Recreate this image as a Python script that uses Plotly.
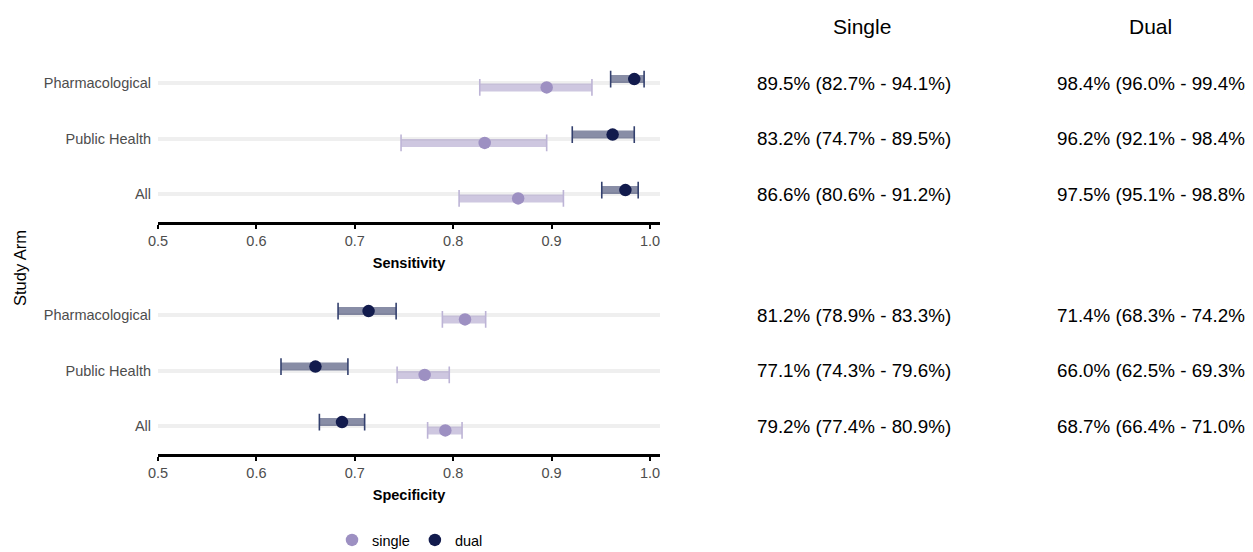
import plotly.graph_objects as go

# ---------------- data ----------------
arms = ["All", "Public Health", "Pharmacological"]
arm_pos = [1, 2, 3]

sens_single = [0.866, 0.832, 0.895]
sens_single_lo = [0.806, 0.747, 0.827]
sens_single_hi = [0.912, 0.895, 0.941]
sens_dual = [0.975, 0.962, 0.984]
sens_dual_lo = [0.951, 0.921, 0.960]
sens_dual_hi = [0.988, 0.984, 0.994]

spec_single = [0.792, 0.771, 0.812]
spec_single_lo = [0.774, 0.743, 0.789]
spec_single_hi = [0.809, 0.796, 0.833]
spec_dual = [0.687, 0.660, 0.714]
spec_dual_lo = [0.664, 0.625, 0.683]
spec_dual_hi = [0.710, 0.693, 0.742]

x_ticks = [0.5, 0.6, 0.7, 0.8, 0.9, 1.0]
x_ticktext = ["0.5", "0.6", "0.7", "0.8", "0.9", "1.0"]

# ---------------- style ----------------
OFF = 8                      # page body margin
W, H = 1253 - OFF, 552 - OFF
FONT = "Liberation Sans, Arial, Helvetica, sans-serif"
C_SINGLE = "#9d90c2"
C_DUAL = "#121b4d"
BAND_SINGLE = "rgba(157,144,194,0.5)"
BAND_DUAL = "rgba(18,27,77,0.5)"
CAP_SINGLE = "#bdb4d6"
CAP_DUAL = "#33406e"
DODGE = 0.075


def fx(px):
    return (px - OFF) / W


def fy(py):
    return 1 - (py - OFF) / H


fig = go.Figure()


def add_series(est, lo, hi, offset, name, color, band, cap, xa, ya, showlegend):
    ys = [p + offset for p in arm_pos]
    bx, by = [], []
    for l, h, y in zip(lo, hi, ys):
        bx += [l, h, None]
        by += [y, y, None]
    fig.add_trace(go.Scatter(x=bx, y=by, mode="lines", line=dict(color=band, width=8),
                             xaxis=xa, yaxis=ya, showlegend=False, hoverinfo="skip"))
    fig.add_trace(go.Scatter(x=list(lo) + list(hi), y=ys + ys, mode="markers",
                             marker=dict(symbol="line-ns", size=12,
                                         line=dict(color=cap, width=1.6)),
                             xaxis=xa, yaxis=ya, showlegend=False, hoverinfo="skip"))
    fig.add_trace(go.Scatter(x=est, y=ys, mode="markers", name=name,
                             marker=dict(color=color, size=12.5),
                             xaxis=xa, yaxis=ya, showlegend=showlegend))


add_series(sens_single, sens_single_lo, sens_single_hi, -DODGE, "single", C_SINGLE,
           BAND_SINGLE, CAP_SINGLE, "x", "y", True)
add_series(sens_dual, sens_dual_lo, sens_dual_hi, DODGE, "dual", C_DUAL,
           BAND_DUAL, CAP_DUAL, "x", "y", True)
add_series(spec_single, spec_single_lo, spec_single_hi, -DODGE, "single", C_SINGLE,
           BAND_SINGLE, CAP_SINGLE, "x2", "y2", False)
add_series(spec_dual, spec_dual_lo, spec_dual_hi, DODGE, "dual", C_DUAL,
           BAND_DUAL, CAP_DUAL, "x2", "y2", False)

xdom = [fx(158), fx(660)]
xrange = [0.5, 0.5 + (660 - 158) / 984.0]

xaxis_common = dict(
    domain=xdom, range=xrange, tickvals=x_ticks, ticktext=x_ticktext,
    showgrid=False, zeroline=False, showline=True, linecolor="black", linewidth=3,
    ticks="outside", ticklen=4, tickwidth=1.5, tickcolor="black",
    tickfont=dict(family=FONT, size=14.5, color="#4d4d4d"),
    fixedrange=True, automargin=False,
)
yaxis_common = dict(
    range=[0.5, 3.5], tickvals=arm_pos, ticktext=arms,
    showgrid=True, gridcolor="#efefef", gridwidth=4, zeroline=False, showline=False,
    ticks="", ticklabelstandoff=6, automargin=False,
    tickfont=dict(family=FONT, size=14.5, color="#4d4d4d"),
)

fig.update_layout(
    width=W, height=H,
    margin=dict(l=0, r=0, t=0, b=0, autoexpand=False),
    plot_bgcolor="white", paper_bgcolor="white",
    font=dict(family=FONT),
    xaxis=dict(**xaxis_common, anchor="y",
               title=dict(text="<b>Sensitivity</b>", standoff=10,
                          font=dict(family=FONT, size=14.5, color="black"))),
    yaxis=dict(**yaxis_common, domain=[fy(222), fy(55.5)], anchor="x"),
    xaxis2=dict(**xaxis_common, anchor="y2",
                title=dict(text="<b>Specificity</b>", standoff=10,
                           font=dict(family=FONT, size=14.5, color="black"))),
    yaxis2=dict(**yaxis_common, domain=[fy(454), fy(287.5)], anchor="x2"),
    legend=dict(orientation="h", x=fx(332), xanchor="left", y=fy(540), yanchor="middle",
                font=dict(family=FONT, size=14.5, color="black"), bgcolor="rgba(0,0,0,0)",
                traceorder="normal"),
)

annotations = []
annotations.append(dict(text="Study Arm", x=fx(20), y=fy(268), xref="paper", yref="paper",
                        xanchor="center", yanchor="middle",
                        textangle=-90, showarrow=False,
                        font=dict(family=FONT, size=16.5, color="black")))
annotations.append(dict(text="Single", x=fx(862), y=fy(27), xref="paper", yref="paper",
                        xanchor="center", yanchor="middle",
                        showarrow=False, font=dict(family=FONT, size=21, color="black")))
annotations.append(dict(text="Dual", x=fx(1150), y=fy(27), xref="paper", yref="paper",
                        xanchor="center", yanchor="middle",
                        showarrow=False, font=dict(family=FONT, size=21, color="black")))


def fmt(e, l, h):
    return f"{e*100:.1f}% ({l*100:.1f}% - {h*100:.1f}%)"


for yref, s, sl, sh, d, dl, dh in [
    ("y", sens_single, sens_single_lo, sens_single_hi, sens_dual, sens_dual_lo, sens_dual_hi),
    ("y2", spec_single, spec_single_lo, spec_single_hi, spec_dual, spec_dual_lo, spec_dual_hi),
]:
    for i, p in enumerate(arm_pos):
        annotations.append(dict(text=fmt(s[i], sl[i], sh[i]), x=fx(755), y=p, xref="paper",
                                yref=yref, xanchor="left", yanchor="middle", showarrow=False,
                                font=dict(family=FONT, size=18.8, color="black")))
        annotations.append(dict(text=fmt(d[i], dl[i], dh[i]), x=fx(1055), y=p, xref="paper",
                                yref=yref, xanchor="left", yanchor="middle", showarrow=False,
                                font=dict(family=FONT, size=18.8, color="black")))

fig.update_layout(annotations=annotations)
fig.write_html("out.html")
